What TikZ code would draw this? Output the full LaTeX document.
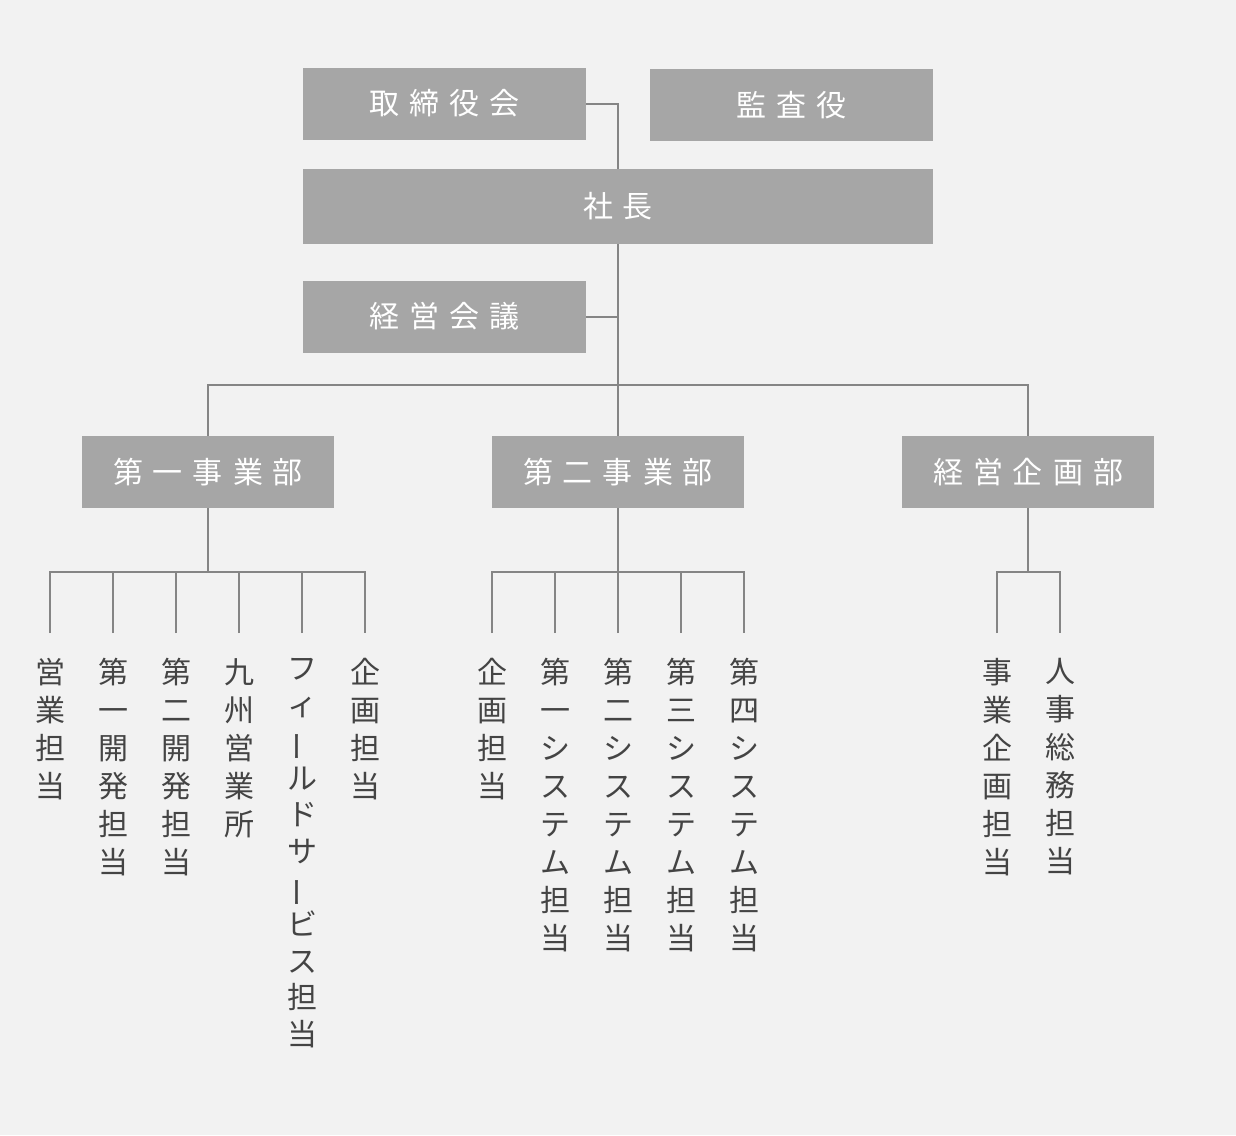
\documentclass[tikz,border=0pt]{standalone}
\usepackage{fontspec}
\setmainfont{Noto Sans CJK JP}
\usetikzlibrary{positioning}

\definecolor{bggray}{HTML}{F2F2F2}
\definecolor{boxgray}{HTML}{A6A6A6}
\definecolor{linegray}{HTML}{858585}
\definecolor{textgray}{HTML}{444444}

\newcommand\gap{\hspace{10pt}}
\newcommand\chobar{\rotatebox[origin=c]{90}{ー}}

\tikzset{
  unit/.style={fill=boxgray, text=white, font=\fontsize{30}{32}\selectfont, inner sep=0pt, minimum height=72pt},
  small/.style={unit, minimum width=283pt},
  dept/.style={unit, minimum width=252pt},
  post/.style={text=textgray, font=\fontsize{30}{38}\selectfont, align=center, anchor=north, inner xsep=0pt, inner ysep=25pt},
  wire/.style={draw=linegray, line width=2pt}
}

\begin{document}
\begin{tikzpicture}[x=1pt,y=-1pt]
		\useasboundingbox[fill=bggray] (0,0) rectangle (1236,1135);

		\draw (444.5,103.5) node [small] (board) {取\gap 締\gap 役\gap 会};
		\draw (791.5,105) node [small] (audit) {監\gap 査\gap 役};
		\draw (618,206.5) node [unit, minimum width=630pt, minimum height=75pt] (ceo) {社\gap 長};
		\draw (444.5,316.5) node [small] (mgmt) {経\gap 営\gap 会\gap 議};
		\draw (208,472) node [dept] (div1) {第\gap 一\gap 事\gap 業\gap 部};
		\draw (618,472) node [dept] (div2) {第\gap 二\gap 事\gap 業\gap 部};
		\draw (1028,472) node [dept] (plan) {経\gap 営\gap 企\gap 画\gap 部};

		\draw (50,633) node [post] (a1) {営\\業\\担\\当};
		\draw (113,633) node [post] (a2) {第\\一\\開\\発\\担\\当};
		\draw (176,633) node [post] (a3) {第\\二\\開\\発\\担\\当};
		\draw (239,633) node [post] (a4) {九\\州\\営\\業\\所};
		\draw (302,633) node [post, font=\fontsize{30}{36.6}\selectfont] (a5) {フ\\ィ\\\chobar\\ル\\ド\\サ\\\chobar\\ビ\\ス\\担\\当};
		\draw (365,633) node [post] (a6) {企\\画\\担\\当};

		\draw (492,633) node [post] (b1) {企\\画\\担\\当};
		\draw (555,633) node [post] (b2) {第\\一\\シ\\ス\\テ\\ム\\担\\当};
		\draw (618,633) node [post] (b3) {第\\二\\シ\\ス\\テ\\ム\\担\\当};
		\draw (681,633) node [post] (b4) {第\\三\\シ\\ス\\テ\\ム\\担\\当};
		\draw (744,633) node [post] (b5) {第\\四\\シ\\ス\\テ\\ム\\担\\当};

		\draw (997,633) node [post] (c1) {事\\業\\企\\画\\担\\当};
		\draw (1060,633) node [post] (c2) {人\\事\\総\\務\\担\\当};

		\coordinate (hub) at (618,385);
		\coordinate (bus1) at (208,572);
		\coordinate (bus2) at (618,572);
		\coordinate (bus3) at (1028,572);

		\draw[wire] (board.east) -| (ceo.north);
		\draw[wire] (mgmt.east) -- (mgmt.east -| ceo.south);
		\draw[wire] (ceo.south) -- (div2.north);
		\draw[wire] (div1.north) |- (hub) -| (plan.north);

		\draw[wire] (div1.south) -- (bus1);
		\draw[wire] (a1.north) |- (bus1) -| (a6.north);
		\foreach \n in {a2,a3,a4,a5}
			\draw[wire] (\n.north) -- (\n.north |- bus1);

		\draw[wire] (div2.south) -- (bus2);
		\draw[wire] (b1.north) |- (bus2) -| (b5.north);
		\foreach \n in {b2,b3,b4}
			\draw[wire] (\n.north) -- (\n.north |- bus2);

		\draw[wire] (plan.south) -- (bus3);
		\draw[wire] (c1.north) |- (bus3) -| (c2.north);
	\end{tikzpicture}
\end{document}
